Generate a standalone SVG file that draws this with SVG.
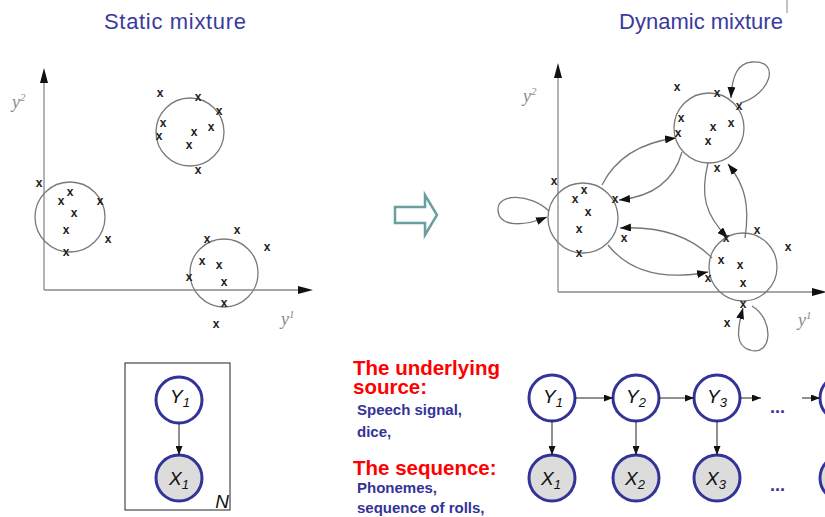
<svg xmlns="http://www.w3.org/2000/svg" width="825" height="517" viewBox="0 0 825 517">
<style>
.title{font-family:"Liberation Sans",Arial,sans-serif;font-size:22px;fill:#3a3a9e}
.ax{stroke:#8a8a8a;stroke-width:1.3;fill:none}
.cl{stroke:#7a7a7a;stroke-width:1.3;fill:none}
.m{font-family:"Liberation Sans",Arial,sans-serif;font-size:12px;font-weight:bold;fill:#222;text-anchor:middle}
.lab{font-family:"Liberation Serif","Times New Roman",serif;font-style:italic;font-size:18px;fill:#8a8a8a}
.tr{stroke:#777;stroke-width:1.3;fill:none;marker-end:url(#ah)}
.nd{stroke:#333399;stroke-width:3;fill:#fff}
.ob{stroke:#333399;stroke-width:3;fill:#dcdcdc}
.nt{font-family:"Liberation Sans",Arial,sans-serif;font-style:italic;font-size:19px;fill:#111}
.sb{font-size:13px}
.ed{stroke:#222;stroke-width:1;fill:none;marker-end:url(#eh)}
.red{font-family:"Liberation Sans",Arial,sans-serif;font-weight:bold;font-size:20.5px;fill:#ff0000}
.blu{font-family:"Liberation Sans",Arial,sans-serif;font-weight:bold;font-size:15px;fill:#333399}
.dots{font-family:"Liberation Sans",Arial,sans-serif;font-weight:bold;font-size:18px;fill:#333399}
</style>
<defs>
<marker id="ah" markerUnits="userSpaceOnUse" markerWidth="11" markerHeight="8" refX="11" refY="4" orient="auto">
<path d="M0,0 L11,4 L0,8 z" fill="#111"/>
</marker>
<marker id="eh" markerUnits="userSpaceOnUse" markerWidth="9" markerHeight="7" refX="9" refY="3.5" orient="auto">
<path d="M0,0 L9,3.5 L0,7 z" fill="#111"/>
</marker>
</defs>
<rect width="825" height="517" fill="#fff"/>

<g id="static-plot">
<text class="title" x="175" y="29" text-anchor="middle" textLength="142">Static mixture</text>
<line class="ax" x1="44" y1="80" x2="44" y2="290"/>
<line class="ax" x1="44" y1="290" x2="300" y2="290"/>
<polygon points="44,68 40,83 48,83" fill="#111"/>
<polygon points="313,290 298,286 298,294" fill="#111"/>
<text class="lab" x="12" y="108">y<tspan font-size="11" dy="-7">2</tspan></text>
<text class="lab" x="281" y="325">y<tspan font-size="11" dy="-7">1</tspan></text>
<circle class="cl" cx="190" cy="132" r="34"/>
<circle class="cl" cx="70" cy="217" r="35"/>
<circle class="cl" cx="224" cy="273" r="34"/>
<g>
<text class="m" x="160" y="97">x</text>
<text class="m" x="198" y="101">x</text>
<text class="m" x="219" y="115">x</text>
<text class="m" x="163" y="127">x</text>
<text class="m" x="159" y="140">x</text>
<text class="m" x="194" y="136">x</text>
<text class="m" x="211" y="131">x</text>
<text class="m" x="189" y="149">x</text>
<text class="m" x="198" y="174">x</text>
<text class="m" x="39" y="187">x</text>
<text class="m" x="70" y="196">x</text>
<text class="m" x="61" y="205">x</text>
<text class="m" x="100" y="205">x</text>
<text class="m" x="74" y="217">x</text>
<text class="m" x="66" y="234">x</text>
<text class="m" x="108" y="243">x</text>
<text class="m" x="66" y="256">x</text>
<text class="m" x="237" y="234">x</text>
<text class="m" x="207" y="243">x</text>
<text class="m" x="267" y="251">x</text>
<text class="m" x="202" y="265">x</text>
<text class="m" x="219" y="269">x</text>
<text class="m" x="189" y="281">x</text>
<text class="m" x="224" y="286">x</text>
<text class="m" x="224" y="307">x</text>
<text class="m" x="216" y="328">x</text>
</g>
</g>

<g id="block-arrow">
<polygon points="395,207 425,207 425,195 437,215 425,235 425,223 395,223" fill="#fff" stroke="#6a9f9f" stroke-width="2.5" stroke-linejoin="miter"/>
</g>

<g id="dynamic-plot">
<text class="title" x="701" y="29" text-anchor="middle">Dynamic mixture</text>
<line x1="787" y1="0" x2="787" y2="13" stroke="#888" stroke-width="1"/>
<line class="ax" x1="558" y1="75" x2="558" y2="292"/>
<line class="ax" x1="558" y1="292" x2="815" y2="292"/>
<polygon points="558,63 554,78 562,78" fill="#111"/>
<polygon points="827,292 812,288 812,296" fill="#111"/>
<text class="lab" x="523" y="102">y<tspan font-size="11" dy="-7">2</tspan></text>
<text class="lab" x="798" y="326">y<tspan font-size="11" dy="-7">1</tspan></text>
<circle class="cl" cx="709" cy="128" r="35"/>
<circle class="cl" cx="583" cy="218" r="35"/>
<circle class="cl" cx="743" cy="267" r="34"/>
<g>
<text class="m" x="677" y="91">x</text>
<text class="m" x="717" y="97">x</text>
<text class="m" x="739" y="110">x</text>
<text class="m" x="681" y="122">x</text>
<text class="m" x="678" y="137">x</text>
<text class="m" x="713" y="131">x</text>
<text class="m" x="731" y="127">x</text>
<text class="m" x="708" y="145">x</text>
<text class="m" x="717" y="172">x</text>
<text class="m" x="554" y="185">x</text>
<text class="m" x="584" y="194">x</text>
<text class="m" x="575" y="203">x</text>
<text class="m" x="615" y="203">x</text>
<text class="m" x="588" y="216">x</text>
<text class="m" x="579" y="233">x</text>
<text class="m" x="624" y="242">x</text>
<text class="m" x="579" y="257">x</text>
<text class="m" x="757" y="234">x</text>
<text class="m" x="726" y="242">x</text>
<text class="m" x="788" y="251">x</text>
<text class="m" x="721" y="264">x</text>
<text class="m" x="740" y="269">x</text>
<text class="m" x="708" y="282">x</text>
<text class="m" x="743" y="287">x</text>
<text class="m" x="743" y="308">x</text>
<text class="m" x="727" y="327">x</text>
</g>
</g>

<g id="transitions">
<path class="tr" d="M602,185 Q622,145 676,138"/>
<path class="tr" d="M682,152 Q670,195 619,200"/>
<path class="tr" d="M712,258 Q680,225 620,228"/>
<path class="tr" d="M608,245 Q640,285 708,272"/>
<path class="tr" d="M708,163 C700,195 705,215 728,238"/>
<path class="tr" d="M745,238 C750,205 745,185 728,164"/>
<path class="tr" d="M740,103 C770,95 782,60 752,62 C738,63 732,75 731,98"/>
<path class="tr" d="M549,211 C530,193 497,193 498,210 C499,228 525,226 547,217"/>
<path class="tr" d="M752,306 C775,320 772,357 750,350 C735,346 737,330 743,308"/>
</g>

<g id="plate">
<rect x="125" y="363" width="105" height="147" fill="none" stroke="#222" stroke-width="1"/>
<text class="nt" x="222" y="508" text-anchor="middle">N</text>
</g>
<g id="plate-Y1">
<circle class="nd" cx="179" cy="400" r="23"/>
<text class="nt" x="170" y="403">Y<tspan class="sb" dy="4">1</tspan></text>
</g>
<g id="plate-X1">
<circle class="ob" cx="179" cy="478" r="23"/>
<text class="nt" x="169" y="485">X<tspan class="sb" dy="4">1</tspan></text>
</g>

<g id="labels">
<text class="red" x="353" y="375">The underlying<tspan x="353" dy="19">source:</tspan></text>
<text class="blu" x="357" y="415">Speech signal,</text>
<text class="blu" x="357" y="437">dice,</text>
<text class="red" x="353" y="475">The sequence:</text>
<text class="blu" x="357" y="493">Phonemes,</text>
<text class="blu" x="357" y="513">sequence of rolls,</text>
</g>

<g id="chain-Y1"><circle class="nd" cx="552" cy="398" r="23"/><text class="nt" x="543" y="403">Y<tspan class="sb" dy="4">1</tspan></text></g>
<g id="chain-Y2"><circle class="nd" cx="636" cy="398" r="23"/><text class="nt" x="626" y="403">Y<tspan class="sb" dy="4">2</tspan></text></g>
<g id="chain-Y3"><circle class="nd" cx="717" cy="398" r="23"/><text class="nt" x="707" y="403">Y<tspan class="sb" dy="4">3</tspan></text></g>
<g id="chain-Y4"><circle class="nd" cx="843" cy="398" r="23"/></g>
<g id="chain-X1"><circle class="ob" cx="552" cy="478" r="23"/><text class="nt" x="541" y="485">X<tspan class="sb" dy="4">1</tspan></text></g>
<g id="chain-X2"><circle class="ob" cx="636" cy="478" r="23"/><text class="nt" x="625" y="485">X<tspan class="sb" dy="4">2</tspan></text></g>
<g id="chain-X3"><circle class="ob" cx="717" cy="478" r="23"/><text class="nt" x="706" y="485">X<tspan class="sb" dy="4">3</tspan></text></g>
<g id="chain-X4"><circle class="ob" cx="843" cy="478" r="23"/></g>
<g id="chain-dots">
<text class="dots" x="770" y="413">...</text>
<text class="dots" x="770" y="491">...</text>
</g>

<g id="edges">
<line class="ed" x1="179" y1="423" x2="179" y2="455"/>
<line class="ed" x1="575" y1="398" x2="613" y2="398"/>
<line class="ed" x1="659" y1="398" x2="694" y2="398"/>
<line class="ed" x1="740" y1="398" x2="761" y2="398"/>
<line class="ed" x1="802" y1="398" x2="820" y2="398"/>
<line class="ed" x1="552" y1="421" x2="552" y2="455"/>
<line class="ed" x1="636" y1="421" x2="636" y2="455"/>
<line class="ed" x1="717" y1="421" x2="717" y2="455"/>
</g>
</svg>
